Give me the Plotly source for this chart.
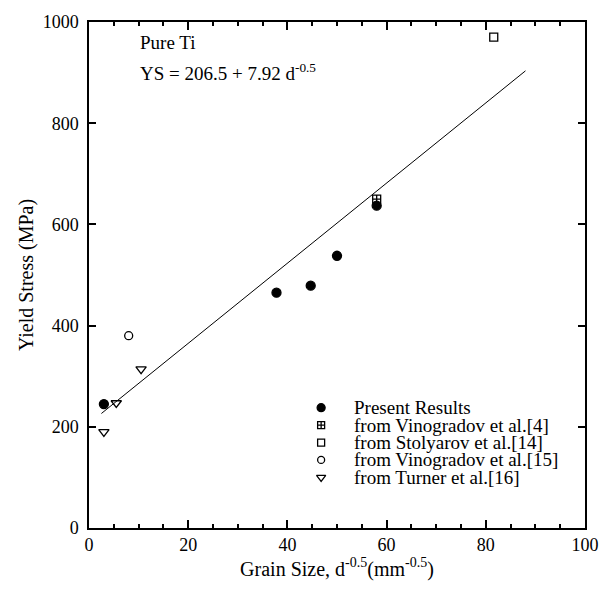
import plotly.graph_objects as go

# Data
present_x = [3, 37.8, 44.7, 50, 58]
present_y = [245, 465, 479, 538, 637]
vino4_x = [58]
vino4_y = [650]
stoly_x = [81.6]
stoly_y = [970]
vino15_x = [8]
vino15_y = [380]
turner_x = [3, 5.5, 10.5]
turner_y = [190, 247, 314]
fit_x = [2.5, 88]
intercept = 206.5
slope = 7.92
fit_y = [intercept + slope * v for v in fit_x]

legend_labels = ["Present Results", "from Vinogradov et al.[4]", "from Stolyarov et al.[14]",
                 "from Vinogradov et al.[15]", "from Turner et al.[16]"]
legend_symbols = ["circle", "square-cross-open", "square-open", "circle-open", "triangle-down-open"]
legend_sizes = [9, 8, 8, 8, 9]

FONT = "Liberation Serif"
fig = go.Figure()
fig.add_trace(go.Scatter(x=fit_x, y=fit_y, mode="lines",
                         line=dict(color="black", width=1), showlegend=False))
series = [(present_x, present_y), (vino4_x, vino4_y), (stoly_x, stoly_y),
          (vino15_x, vino15_y), (turner_x, turner_y)]
for (sx, sy), name, sym, sz in zip(series, legend_labels, legend_symbols, legend_sizes):
    fig.add_trace(go.Scatter(x=sx, y=sy, mode="markers", name=name, showlegend=False,
                             marker=dict(symbol=sym, size=sz,
                                         color="black", line=dict(width=1.3, color="black"))))

# manual legend on an overlay axis (0..1 over the plot area)
leg_x_marker = 0.468
leg_x_text = 0.530
leg_y0 = 0.2377
leg_dy = 0.0344
leg_ys = [leg_y0 - i * leg_dy for i in range(len(legend_labels))]
for lab, sym, sz, ly in zip(legend_labels, legend_symbols, legend_sizes, leg_ys):
    fig.add_trace(go.Scatter(x=[leg_x_marker], y=[ly], mode="markers", showlegend=False,
                             xaxis="x2", yaxis="y2", hoverinfo="skip",
                             marker=dict(symbol=sym, size=sz - 1, color="black",
                                         line=dict(width=1.3, color="black"))))
    fig.add_annotation(x=leg_x_text, y=ly, xref="x2", yref="y2", xanchor="left", yanchor="middle",
                       text=lab, showarrow=False,
                       font=dict(family=FONT, size=19, color="black"))

axis_common = dict(showgrid=False, zeroline=False, showline=True, linecolor="black",
                   linewidth=1.5, mirror="ticks", ticks="inside", tickcolor="black",
                   tickwidth=1.5, tickfont=dict(family=FONT, size=18, color="black"))
fig.update_xaxes(range=[0, 100], dtick=20, ticklen=8,
                 minor=dict(dtick=5, ticks="inside", ticklen=4, tickcolor="black", tickwidth=1.5),
                 title=dict(text="Grain Size, d<sup>-0.5</sup>(mm<sup>-0.5</sup>)",
                            font=dict(family=FONT, size=20, color="black"), standoff=6),
                 **axis_common)
fig.update_yaxes(range=[0, 1000], dtick=200, ticklen=7, ticklabelstandoff=5,
                 title=dict(text="Yield Stress (MPa)",
                            font=dict(family=FONT, size=20, color="black"), standoff=4),
                 **axis_common)

fig.add_annotation(x=0.099, y=0.959, xref="paper", yref="paper", xanchor="left", yanchor="middle",
                   text="Pure Ti", showarrow=False, font=dict(family=FONT, size=19, color="black"))
fig.add_annotation(x=0.099, y=0.902, xref="paper", yref="paper", xanchor="left", yanchor="middle",
                   text="YS = 206.5 + 7.92 d<sup>-0.5</sup>", showarrow=False,
                   font=dict(family=FONT, size=19, color="black"))

fig.update_layout(
    width=611, height=593,
    margin=dict(l=89, r=16, t=19, b=65),
    paper_bgcolor="white", plot_bgcolor="white",
    xaxis2=dict(range=[0, 1], overlaying="x", visible=False, fixedrange=True),
    yaxis2=dict(range=[0, 1], overlaying="y", visible=False, fixedrange=True),
    showlegend=False,
)
fig.write_html("out.html")
